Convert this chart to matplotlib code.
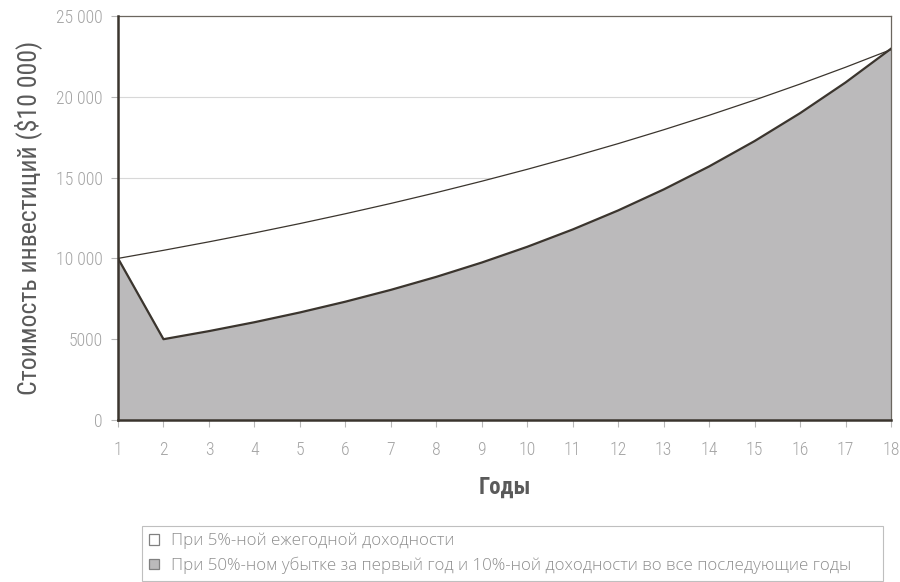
import matplotlib
matplotlib.use("Agg")
import matplotlib.pyplot as plt
from matplotlib.patches import Patch
from matplotlib.ticker import FuncFormatter

plt.rcParams['font.family'] = ['Roboto Condensed', 'DejaVu Sans']

years = list(range(1, 19))
steady_5pct = [10000, 10500, 11025, 11576, 12155, 12763, 13401, 14071, 14775,
               15513, 16289, 17103, 17959, 18856, 19799, 20789, 21829, 22920]
loss_then_10pct = [10000, 5000, 5500, 6050, 6655, 7321, 8053, 8858, 9744,
                   10718, 11790, 12969, 14266, 15692, 17261, 18987, 20886, 22975]
y_ticks = [0, 5000, 10000, 15000, 20000, 25000]
legend_labels = ["При 5%-ной ежегодной доходности",
                 "При 50%-ном убытке за первый год и 10%-ной доходности во все последующие годы"]

line_col = "#3b352e"
fill_col = "#bbbabb"
tick_col = "#a4a4a4"

fig = plt.figure(figsize=(9, 5.82), dpi=100)
ax = fig.add_axes([118/900, 1-420/582, (891-118)/900, (420-16)/582])

for y in y_ticks[1:-1]:
    ax.axhline(y, color="#d8d8d8", lw=0.8, zorder=0)

ax.fill_between(years, steady_5pct, color="white", zorder=1)
ax.plot(years, steady_5pct, color=line_col, lw=0.9, zorder=3)
ax.fill_between(years, loss_then_10pct, color=fill_col, zorder=2)
ax.plot(years, loss_then_10pct, color=line_col, lw=1.6, zorder=4)

ax.set_xlim(1, 18)
ax.set_ylim(0, 25000)
ax.set_xticks(years)
ax.set_yticks(y_ticks)

def fmt(v, pos):
    v = int(v)
    if v >= 10000:
        return f"{v // 1000} {v % 1000:03d}"
    return str(v)

ax.yaxis.set_major_formatter(FuncFormatter(fmt))
ax.tick_params(axis="both", colors="#b8b8b8", labelcolor=tick_col, labelsize=12.8,
               length=5, width=0.8, direction="out")
ax.tick_params(axis="x", pad=10)
ax.tick_params(axis="y", pad=6)
for lbl in ax.get_xticklabels() + ax.get_yticklabels():
    lbl.set_fontweight("light")

for side in ("left", "bottom"):
    ax.spines[side].set_color(line_col)
    ax.spines[side].set_linewidth(1.8)
for side in ("top", "right"):
    ax.spines[side].set_color("#6b665f")
    ax.spines[side].set_linewidth(0.9)
ax.spines["left"].set_zorder(5)
ax.spines["bottom"].set_zorder(5)

ax.set_ylabel("Стоимость инвестиций ($10 000)", color="#5a5a5a", fontsize=18.5, labelpad=10)
ax.set_xlabel("Годы", color="#5a5a5a", fontsize=16.5, fontweight="semibold", labelpad=12)

handles = [Patch(facecolor="white", edgecolor="#808080", lw=0.9),
           Patch(facecolor=fill_col, edgecolor="#808080", lw=0.9)]
leg = fig.legend(handles, legend_labels, loc="lower left",
                 bbox_to_anchor=(142/900, 1/582, (883-142)/900, 59/582),
                 mode="expand", frameon=True, fancybox=False,
                 prop={"family": ["Open Sans", "DejaVu Sans"], "size": 12.2, "weight": "light"},
                 labelcolor="#8e8e8e", handlelength=0.6, handleheight=0.6,
                 handletextpad=0.7, borderpad=0.42, labelspacing=0.42,
                 borderaxespad=0.0)
leg.get_frame().set_edgecolor("#b0b0b0")
leg.get_frame().set_linewidth(0.8)

fig.savefig("out.png", dpi=100)
